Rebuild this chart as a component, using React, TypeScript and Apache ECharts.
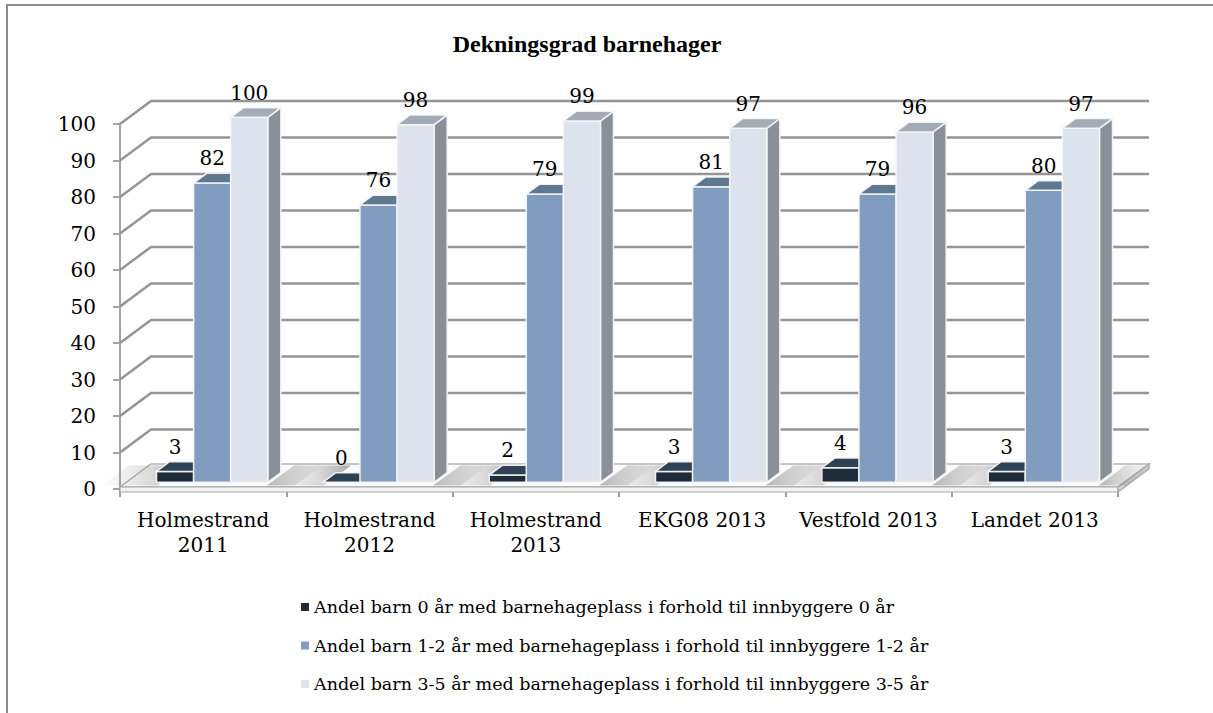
import React, { useEffect, useRef } from "react";
import * as echarts from "echarts";

// ---------- data ----------
const categories = [
  "Holmestrand\n2011",
  "Holmestrand\n2012",
  "Holmestrand\n2013",
  "EKG08 2013",
  "Vestfold 2013",
  "Landet 2013",
];
const seriesNames = [
  "Andel barn 0 år med barnehageplass i forhold til innbyggere 0 år",
  "Andel barn 1-2 år med barnehageplass i forhold til innbyggere 1-2 år",
  "Andel barn 3-5 år med barnehageplass i forhold til innbyggere 3-5 år",
];
const age0 = [3, 0, 2, 3, 4, 3];
const age12 = [82, 76, 79, 81, 79, 80];
const age35 = [100, 98, 99, 97, 96, 97];
const yTicks = [0, 10, 20, 30, 40, 50, 60, 70, 80, 90, 100];
const titleText = "Dekningsgrad barnehager";

// ---------- styling ----------
const FONT = "DejaVu Serif";
const TITLE_FONT = "Liberation Serif";
const DX = 31; // depth vector of the floor, pixels
const DY = -23;
const D_FRONT = 0.29;
const D_BACK = 0.71;
const BAR_W = 0.223; // fraction of category width
const COLORS = [
  { front: "#1e2c3a", top: "#2f4254", side: "#2a3440", legend: "#1e2c3a" },
  { front: "#809dbf", top: "#5f7891", side: "#6c7c8c", legend: "#809dbf" },
  { front: "#dce3ec", top: "#a2abb6", side: "#8b8f97", legend: "#dce3ec" },
];
const EDGE = "rgba(245,245,245,0.95)";

const seriesData = [age0, age12, age35];

function makeBarRender(si: number) {
  return (params: any, api: any) => {
    const ci = api.value(0);
    const v = api.value(1);
    const base = api.coord([ci, 0]);
    const top = api.coord([ci, v]);
    const catW = api.size([1, 0])[0];
    const bw = catW * BAR_W;
    const x0 = base[0] - 1.5 * bw + si * bw;
    const fx = DX * D_FRONT, fy = DY * D_FRONT;
    const bx = DX * D_BACK, by = DY * D_BACK;
    const L = x0 + fx, R = x0 + bw + fx;
    const yt = top[1] + fy, yb = base[1] + fy;
    const col = COLORS[si];
    return {
      type: "group",
      children: [
        {
          type: "polygon",
          shape: { points: [[R, yt], [x0 + bw + bx, top[1] + by], [x0 + bw + bx, base[1] + by], [R, yb]] },
          style: { fill: col.side, stroke: EDGE, lineWidth: 1.5 },
        },
        {
          type: "rect",
          shape: { x: L, y: yt, width: bw, height: Math.max(0, yb - yt) },
          style: { fill: col.front, stroke: EDGE, lineWidth: 1.5 },
        },
        {
          type: "polygon",
          shape: { points: [[L, yt], [R, yt], [x0 + bw + bx, top[1] + by], [x0 + bx, top[1] + by]] },
          style: { fill: col.top, stroke: EDGE, lineWidth: 1.5 },
        },
        {
          type: "text",
          x: L + bw / 2,
          y: top[1] + by - 15,
          style: {
            text: String(v),
            fill: "#000",
            font: `20px '${FONT}'`,
            align: "center",
            verticalAlign: "middle",
          },
        },
      ],
    };
  };
}

function wallsRender(params: any, api: any) {
  const v = api.value(1);
  const p = api.coord([0, v]);
  const catW = api.size([1, 0])[0];
  const left = p[0] - catW / 2;
  const right = api.coord([categories.length - 1, v])[0] + catW / 2;
  return {
    type: "polyline",
    shape: { points: [[left, p[1]], [left + DX, p[1] + DY], [right + DX, p[1] + DY]] },
    style: { stroke: "#959595", lineWidth: 2.5, fill: "none" },
  };
}

function floorRender(params: any, api: any) {
  const p = api.coord([0, 0]);
  const catW = api.size([1, 0])[0];
  const left = p[0] - catW / 2;
  const right = api.coord([categories.length - 1, 0])[0] + catW / 2;
  const y0 = p[1] - 2;
  const t = 5;
  return {
    type: "group",
    children: [
      {
        type: "polygon",
        shape: { points: [[left, y0], [right, y0], [right + DX, y0 + DY], [left + DX, y0 + DY]] },
        style: { fill: "#fbfbfb", stroke: "#b4b4b4", lineWidth: 1.5 },
      },
      {
        type: "rect",
        shape: { x: left, y: y0, width: right - left, height: t },
        style: { fill: "#f2f2f2", stroke: "#a8a8a8", lineWidth: 1.2 },
      },
      {
        type: "polygon",
        shape: { points: [[right, y0], [right + DX, y0 + DY], [right + DX, y0 + DY + t], [right, y0 + t]] },
        style: { fill: "#d0d0d0", stroke: "#a8a8a8", lineWidth: 1.2 },
      },
    ],
  };
}

function shadowRender(params: any, api: any) {
  const ci = api.value(0);
  const p = api.coord([ci, 0]);
  const catW = api.size([1, 0])[0];
  const bw = catW * BAR_W;
  const gl = p[0] - 1.5 * bw;
  const gr = p[0] + 1.5 * bw;
  const y0 = p[1] - 2;
  const fx0 = DX * 0.06, fy0 = DY * 0.06;
  const fx1 = DX * 0.94, fy1 = DY * 0.94;
  const xs = gl - 48;
  return {
    type: "group",
    children: [
      {
        type: "polygon",
        shape: {
          points: [
            [xs + fx0, y0 + fy0],
            [gl + fx0 + 8, y0 + fy0],
            [gl + fx1 + 8, y0 + fy1],
            [xs + fx1, y0 + fy1],
          ],
        },
        style: {
          fill: new echarts.graphic.LinearGradient(0, 0, 1, 0, [
            { offset: 0, color: "rgba(130,130,130,0)" },
            { offset: 0.6, color: "rgba(120,120,120,0.25)" },
            { offset: 1, color: "rgba(100,100,100,0.55)" },
          ]),
        },
      },
      {
        type: "polygon",
        shape: {
          points: [
            [gr + fx0 + 6, y0 + fy0],
            [gr + fx0 + 34, y0 + fy0],
            [gr + fx1 + 34, y0 + fy1],
            [gr + fx1 + 6, y0 + fy1],
          ],
        },
        style: {
          fill: new echarts.graphic.LinearGradient(0, 0, 1, 0, [
            { offset: 0, color: "rgba(100,100,100,0.45)" },
            { offset: 1, color: "rgba(130,130,130,0)" },
          ]),
        },
      },
    ],
  };
}

export default function App() {
  const ref = useRef<HTMLDivElement>(null);
  useEffect(() => {
    if (!ref.current) return;
    document.documentElement.style.overflow = "hidden";
    document.body.style.overflow = "hidden";
    const chart = echarts.init(ref.current, null, { renderer: "svg" });
    const option: any = {
      animation: false,
      backgroundColor: "#ffffff",
      textStyle: { fontFamily: FONT },
      graphic: [
        {
          type: "line",
          shape: { x1: 7, y1: 5, x2: 1213, y2: 5 },
          style: { stroke: "#8c8c8c", lineWidth: 2 },
          silent: true,
        },
        {
          type: "line",
          shape: { x1: 7, y1: 4, x2: 7, y2: 713 },
          style: { stroke: "#8c8c8c", lineWidth: 2 },
          silent: true,
        },
        {
          type: "text",
          x: 587,
          y: 44,
          style: {
            text: titleText,
            fill: "#000",
            font: `bold 24px '${TITLE_FONT}'`,
            align: "center",
            verticalAlign: "middle",
          },
        },
      ],
      legend: {
        orient: "vertical",
        left: 296,
        top: 592,
        itemWidth: 8,
        itemHeight: 8,
        itemGap: 18.5,
        icon: "rect",
        data: seriesNames.map((n, i) => ({ name: n, itemStyle: { color: COLORS[i].legend } })),
        textStyle: { fontFamily: FONT, fontSize: 17.5, color: "#000", lineHeight: 20 },
      },
      grid: { left: 120, right: 95, top: 124, bottom: 224 },
      xAxis: {
        type: "category",
        data: categories,
        boundaryGap: true,
        axisLine: { show: false },
        axisTick: { show: true, length: 8, alignWithLabel: false, lineStyle: { color: "#a0a0a0", width: 2 } },
        axisLabel: {
          interval: 0,
          margin: 18,
          fontFamily: FONT,
          fontSize: 20,
          lineHeight: 25,
          color: "#000",
        },
        splitLine: { show: false },
      },
      yAxis: {
        type: "value",
        min: 0,
        max: 100,
        interval: 10,
        axisLine: { show: true, lineStyle: { color: "#a3a3a3", width: 2 } },
        axisTick: { show: true, length: 7, lineStyle: { color: "#a3a3a3", width: 2 } },
        axisLabel: { margin: 24, fontFamily: FONT, fontSize: 20, color: "#000" },
        splitLine: { show: false },
      },
      series: [
        {
          type: "custom",
          name: "walls",
          renderItem: wallsRender,
          data: yTicks.map((v) => [0, v]),
          clip: false,
          silent: true,
          z: 1,
        },
        {
          type: "custom",
          name: "floor",
          renderItem: floorRender,
          data: [[0, 0]],
          clip: false,
          silent: true,
          z: 1,
        },
        {
          type: "custom",
          name: "shadow",
          renderItem: shadowRender,
          data: categories.map((_, i) => [i, 0]),
          clip: false,
          silent: true,
          z: 1,
        },
        ...seriesNames.map((name, si) => ({
          type: "custom",
          name,
          renderItem: makeBarRender(si),
          data: seriesData[si].map((v, i) => [i, v]),
          clip: false,
          z: 2,
          itemStyle: { color: COLORS[si].legend },
        })),
      ],
    };
    chart.setOption(option);
    return () => chart.dispose();
  }, []);
  return (
    <div
      ref={ref}
      style={{ position: "absolute", left: 0, top: 0, width: 1213, height: 713, background: "#fff" }}
    />
  );
}
